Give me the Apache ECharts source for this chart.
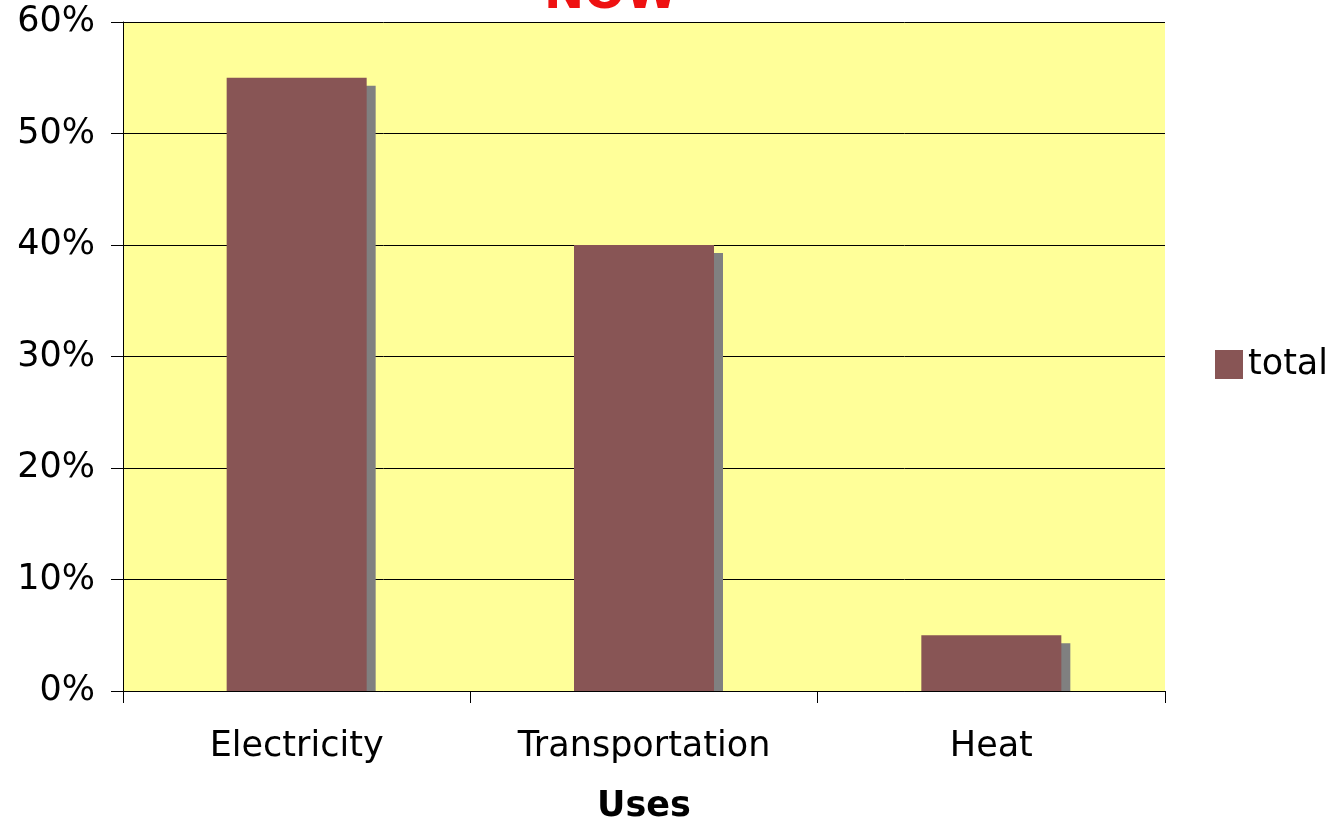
<!DOCTYPE html>
<html>
<head>
<meta charset="utf-8">
<script src="https://cdn.jsdelivr.net/npm/echarts@6/dist/echarts.min.js"></script>
<style>
  html, body { margin: 0; padding: 0; background: #ffffff; }
  #chart { width: 1330px; height: 824px; }
</style>
</head>
<body>
<div id="chart"></div>
<script>
const categories = ['Electricity', 'Transportation', 'Heat']
const totalValues = [55, 40, 5]
const yTicks = [0, 10, 20, 30, 40, 50, 60]

const chart = echarts.init(document.getElementById('chart'))
const labelFont = 'DejaVu Sans, Verdana, sans-serif'
const barColor = '#885555'

// bar with a flat grey drop shadow that stops at the axis line
function renderBar (params, api) {
  const base = api.coord([api.value(0), 0])
  const top = api.coord([api.value(0), api.value(1)])
  const w = 140
  const h = base[1] - top[1]
  const x = base[0] - w / 2
  return {
    type: 'group',
    children: [{
      type: 'rect',
      shape: { x: x + 9, y: top[1] + 8, width: w, height: Math.max(h - 8, 0) },
      style: { fill: '#808080' }
    }, {
      type: 'rect',
      shape: { x: x, y: top[1], width: w, height: h },
      style: { fill: barColor }
    }]
  }
}

const option = {
  animation: false,
  title: {
    text: 'NOW',
    left: 606,
    top: -33,
    textAlign: 'center',
    textStyle: {
      color: '#ee1111',
      fontSize: 48,
      fontWeight: 'bold',
      fontFamily: labelFont
    }
  },
  legend: {
    data: [{ name: 'total', icon: 'rect', itemStyle: { color: barColor } }],
    orient: 'vertical',
    left: 1210,
    top: 342,
    itemWidth: 28,
    itemHeight: 29,
    itemGap: 8,
    textStyle: {
      fontSize: 35,
      color: '#000',
      fontFamily: labelFont
    }
  },
  grid: {
    left: 123,
    right: 165,
    top: 22,
    bottom: 133,
    outerBoundsMode: 'none',
    show: true,
    backgroundColor: '#ffff99',
    borderWidth: 0
  },
  xAxis: {
    type: 'category',
    data: categories,
    name: 'Uses',
    nameLocation: 'middle',
    nameGap: 98,
    nameTextStyle: {
      fontSize: 35,
      fontWeight: 'bold',
      color: '#000',
      fontFamily: labelFont
    },
    axisLine: { lineStyle: { color: '#000', width: 1 } },
    axisTick: { show: true, length: 12, lineStyle: { color: '#000' } },
    axisLabel: {
      fontSize: 35,
      color: '#000',
      margin: 38,
      fontFamily: labelFont
    }
  },
  yAxis: {
    type: 'value',
    min: yTicks[0],
    max: yTicks[yTicks.length - 1],
    interval: 10,
    axisLine: { show: true, lineStyle: { color: '#000' } },
    axisTick: { show: true, length: 12, lineStyle: { color: '#000' } },
    axisLabel: {
      formatter: '{value}%',
      fontSize: 35,
      color: '#000',
      margin: 28,
      fontFamily: labelFont
    },
    splitLine: { show: true, lineStyle: { color: '#000', width: 1 } }
  },
  series: [{
    name: 'total',
    type: 'custom',
    renderItem: renderBar,
    data: totalValues.map((v, i) => [i, v]),
    itemStyle: { color: barColor },
    encode: { x: 0, y: 1 }
  }]
}

chart.setOption(option)
</script>
</body>
</html>
